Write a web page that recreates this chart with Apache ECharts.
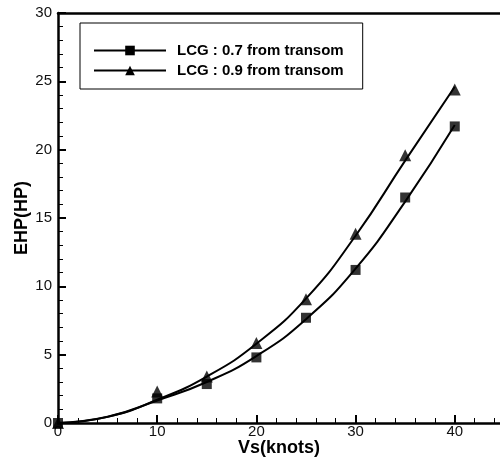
<!DOCTYPE html>
<html><head><meta charset="utf-8">
<script src="https://cdn.jsdelivr.net/npm/echarts@6/dist/echarts.min.js"></script>
<style>html,body{margin:0;padding:0;background:#fff}#c{width:500px;height:459px}</style>
</head><body><div id="c"></div>
<script>
const speeds = [0, 10, 15, 20, 25, 30, 35, 40];
const ehp07 = [0, 1.8, 2.85, 4.8, 7.7, 11.2, 16.5, 21.7];
const ehp09 = [0, 2.3, 3.4, 5.85, 9.05, 13.85, 19.6, 24.4];
const fitSpeeds = [0, 5, 10, 15, 20, 25, 30, 35, 40];
const fit07 = [0, 0.45, 1.65, 3.0, 4.9, 7.6, 11.3, 16.2, 21.8];
const fit09 = [0, 0.45, 1.7, 3.4, 5.8, 9.1, 13.7, 19.2, 24.6];
const name07 = 'LCG : 0.7 from transom';
const name09 = 'LCG : 0.9 from transom';
const pairs = (xs, ys) => xs.map((x, i) => [x, ys[i]]);

const XMAX = 44.56;
const chart = echarts.init(document.getElementById('c'));
const font = 'Liberation Sans, Arial, sans-serif';
chart.setOption({
  animation: false,
  grid: {left: 58, right: 0, top: 13, bottom: 36, outerBoundsMode: 'none', containLabel: false},
  legend: {
    left: 80, top: 23, orient: 'vertical',
    borderColor: '#000', borderWidth: 1,
    padding: [20, 19, 11, 13], itemGap: 5,
    itemWidth: 72, itemHeight: 12,
    data: [name07, name09],
    textStyle: {fontFamily: font, fontWeight: 'bold', fontSize: 15, color: '#000', padding: [0, 0, 0, 6]}
  },
  xAxis: [{
    type: 'value', min: 0, max: XMAX, interval: 10,
    name: 'Vs(knots)', nameLocation: 'middle', nameGap: 16, nameMoveOverlap: false,
    nameTextStyle: {fontFamily: font, fontWeight: 'bold', fontSize: 18, color: '#000', verticalAlign: 'top'},
    axisLine: {lineStyle: {color: '#000', width: 2.5}},
    axisTick: {inside: true, length: 8, lineStyle: {color: '#000', width: 2}},
    splitLine: {show: false},
    axisLabel: {color: '#111', fontFamily: font, fontSize: 15, margin: 1, showMaxLabel: false}
  }, {
    type: 'value', min: 0, max: XMAX, interval: 2, position: 'bottom',
    axisLine: {show: false},
    axisTick: {inside: true, length: 5, lineStyle: {color: '#000', width: 1}},
    splitLine: {show: false},
    axisLabel: {show: false}
  }, {
    type: 'value', min: 0, max: XMAX, position: 'top',
    axisLine: {lineStyle: {color: '#000', width: 2.5}},
    axisTick: {show: false}, splitLine: {show: false}, axisLabel: {show: false}
  }],
  yAxis: {
    type: 'value', min: 0, max: 30, interval: 5,
    name: 'EHP(HP)', nameLocation: 'middle', nameGap: 27, nameMoveOverlap: false,
    nameTextStyle: {fontFamily: font, fontWeight: 'bold', fontSize: 18, color: '#000'},
    axisLine: {lineStyle: {color: '#000', width: 2.5}},
    axisTick: {inside: true, length: 8, lineStyle: {color: '#000', width: 2}},
    minorTick: {show: true, splitNumber: 5, length: 5, lineStyle: {color: '#000', width: 1}},
    splitLine: {show: false},
    axisLabel: {color: '#111', fontFamily: font, fontSize: 15, margin: 6}
  },
  series: [
    {name: name07, type: 'line', smooth: true, showSymbol: false, symbol: 'rect', symbolSize: 10,
     data: pairs(fitSpeeds, fit07), lineStyle: {color: '#000', width: 2}, itemStyle: {color: '#000'}},
    {name: name09, type: 'line', smooth: true, showSymbol: false, symbol: 'triangle', symbolSize: 11,
     data: pairs(fitSpeeds, fit09), lineStyle: {color: '#000', width: 2}, itemStyle: {color: '#000'}},
    {name: name07, type: 'scatter', symbol: 'rect', symbolSize: 10,
     data: pairs(speeds, ehp07), itemStyle: {color: '#000'}},
    {name: name09, type: 'scatter', symbol: 'triangle', symbolSize: 12,
     data: pairs(speeds, ehp09), itemStyle: {color: '#000'}}
  ]
});
</script></body></html>
